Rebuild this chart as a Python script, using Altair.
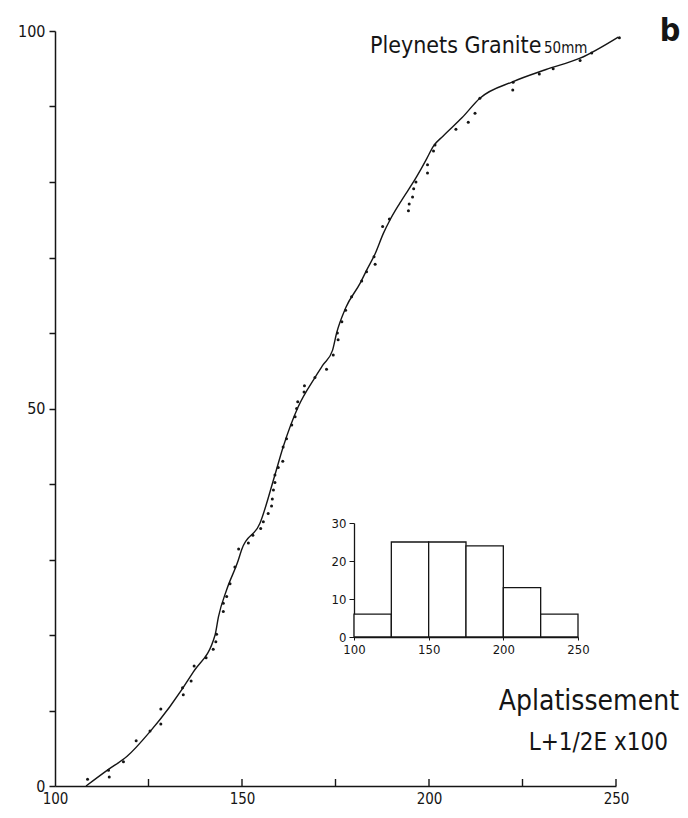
import altair as alt
import pandas as pd

# ---- fitted cumulative curve ----
curve_x = [108.3, 114.3, 119.2, 125.4, 130.7, 137.0, 142.8, 143.7, 145.9, 149.0, 149.9,
           154.8, 158.8, 161.0, 165.0, 169.5, 171.7, 174.2, 175.3, 177.7, 181.6, 183.3,
           185.6, 187.8, 189.6, 192.2, 196.7, 199.4, 201.1, 203.8, 208.8, 213.6, 222.5,
           231.3, 240.4, 250.6]
curve_y = [0.0, 2.2, 3.9, 7.2, 10.5, 15.1, 20.0, 22.4, 26.0, 29.9, 31.3,
           34.8, 41.2, 44.9, 50.2, 54.1, 55.8, 57.7, 60.0, 63.3, 66.6, 68.3,
           70.5, 73.2, 75.0, 77.2, 80.7, 83.1, 84.7, 86.1, 88.5, 91.1, 93.3,
           94.9, 96.4, 99.2]

# ---- observed points ----
dot_x = [108.7, 114.3, 114.5, 118.3, 121.7, 125.4, 128.3, 128.3, 134.1, 134.3, 136.4, 137.2,
         140.4, 142.3, 143.0, 143.2, 145.0, 145.0, 145.9, 146.8, 148.1, 149.1, 151.7, 152.9,
         155.0, 155.7, 157.0, 157.9, 158.1, 158.4, 158.8, 158.8, 159.7, 160.9, 161.0, 161.9,
         163.3, 164.2, 164.6, 164.9, 166.6, 166.7, 169.5, 172.6, 174.4, 175.5, 175.7, 176.7,
         177.7, 179.3, 182.0, 183.3, 185.3, 185.6, 187.6, 189.4, 194.5, 194.7, 195.6, 195.9,
         196.5, 199.6, 199.6, 201.2, 201.6, 207.2, 210.5, 212.3, 213.6, 222.4, 222.5, 229.5,
         233.2, 240.4, 243.5, 250.9]
dot_y = [0.9, 2.1, 1.2, 3.2, 6.0, 7.3, 10.2, 8.2, 13.0, 12.1, 13.9, 15.9,
         17.0, 18.1, 19.1, 20.1, 23.1, 24.2, 25.1, 26.8, 29.0, 31.4, 32.2, 33.2,
         34.1, 35.0, 36.1, 37.1, 38.0, 39.2, 40.2, 41.2, 42.2, 43.0, 44.9, 46.0,
         47.8, 48.9, 50.0, 50.9, 52.2, 53.0, 54.1, 55.2, 57.1, 60.0, 59.1, 61.5,
         63.0, 64.8, 66.9, 68.1, 70.1, 69.1, 74.1, 75.1, 76.2, 77.1, 78.0, 79.1,
         80.0, 81.2, 82.3, 84.1, 84.9, 87.0, 87.9, 89.1, 91.1, 92.2, 93.2, 94.3,
         95.0, 96.1, 97.1, 99.1]

# ---- inset histogram ----
hist_start = [100, 125, 150, 175, 200, 225]
hist_end = [125, 150, 175, 200, 225, 250]
hist_count = [6, 25, 25, 24, 13, 6]

x_ticks = [100, 125, 150, 175, 200, 225, 250]
y_ticks = [0, 10, 20, 30, 40, 50, 60, 70, 80, 90, 100]
inset_x_ticks = [100, 150, 200, 250]
inset_y_ticks = [0, 10, 20, 30]

FONT = "DejaVu Sans Condensed, DejaVu Sans, sans-serif"
INK = "#151515"

W, H = 561, 755

curve_df = pd.DataFrame({"x": curve_x, "y": curve_y})
dot_df = pd.DataFrame({"x": dot_x, "y": dot_y})
hist_df = pd.DataFrame({"a": hist_start, "b": hist_end, "n": hist_count})
tick_df = pd.DataFrame({"v": x_ticks[1:]})

xs = alt.Scale(domain=[100, 250], nice=False, zero=False)
ys = alt.Scale(domain=[0, 100], nice=False, zero=False)

x_axis = alt.Axis(values=x_ticks, labelExpr="datum.value % 50 == 0 ? datum.label : ''",
                  ticks=False, title=None, domainColor=INK, domainWidth=1.5,
                  labelFlush=False, labelOverlap=False,
                  labelFont=FONT, labelFontSize=15, labelColor=INK, labelPadding=5)
y_axis = alt.Axis(values=y_ticks, labelExpr="datum.value % 50 == 0 ? datum.label : ''",
                  tickSize=6, tickColor=INK, tickWidth=1.5, title=None,
                  domainColor=INK, domainWidth=1.5, labelFlush=False, labelOverlap=False,
                  labelFont=FONT, labelFontSize=16, labelColor=INK, labelPadding=4)

line = alt.Chart(curve_df).mark_line(interpolate="monotone", color=INK, strokeWidth=1.4).encode(
    x=alt.X("x:Q", scale=xs, axis=x_axis),
    y=alt.Y("y:Q", scale=ys, axis=y_axis),
)
dots = alt.Chart(dot_df).mark_circle(size=9, color=INK, opacity=1).encode(
    x=alt.X("x:Q", scale=xs), y=alt.Y("y:Q", scale=ys)
)
xtick_marks = alt.Chart(tick_df).mark_rule(color=INK, strokeWidth=1.4).encode(
    x=alt.X("v:Q", scale=xs), y=alt.value(H), y2=alt.value(H - 7)
)


def label(txt, x, y, size, align="left", weight="normal", font=FONT):
    return alt.Chart(pd.DataFrame({"t": [txt]})).mark_text(
        font=font, fontSize=size, fontWeight=weight, align=align, baseline="alphabetic", color=INK
    ).encode(text="t:N", x=alt.value(x), y=alt.value(y))


texts = [
    label("Pleynets Granite", 315, 22, 23),
    label("50mm", 489, 22, 15),
    label("b", 615, 10, 32, align="center", weight="bold"),
    label("Aplatissement", 624, 679, 28, align="right"),
    label("L+1/2E x100", 613, 719, 24, align="right"),
]

main = alt.layer(line, dots, xtick_marks, *texts)

# inset histogram with its own scales positioned inside the plot
ix = alt.Scale(domain=[100, 250], range=[299, 523], nice=False, zero=False)
iy = alt.Scale(domain=[0, 30], range=[606, 492], nice=False, zero=False)
inset = alt.Chart(hist_df).mark_rect(fill="white", stroke=INK, strokeWidth=1.3).encode(
    x=alt.X("a:Q", scale=ix, axis=alt.Axis(orient="bottom", offset=-149, values=inset_x_ticks,
                                           title=None, tickSize=3, tickColor=INK, domainColor=INK,
                                           domainWidth=1.3, labelFont=FONT, labelFontSize=13,
                                           labelFlush=False, labelOverlap=False,
                                           labelColor=INK, labelPadding=3)),
    x2="b:Q",
    y=alt.Y("n:Q", scale=iy, axis=alt.Axis(orient="left", offset=-299, values=inset_y_ticks,
                                           title=None, tickSize=5, tickColor=INK, domainColor=INK,
                                           domainWidth=1.3, labelFont=FONT, labelFontSize=13,
                                           labelFlush=False, labelOverlap=False,
                                           labelColor=INK, labelPadding=3)),
    y2=alt.datum(0),
)

chart = alt.layer(main, inset).resolve_scale(x="independent", y="independent").properties(
    width=W, height=H,
    autosize=alt.AutoSizeParams(type="none"),
    padding={"left": 47, "top": 23, "right": 64, "bottom": 24},
    background="white",
).configure_view(stroke=None).configure_axis(grid=False)

chart.save("out.html", embed_options={"renderer": "svg", "actions": False})
